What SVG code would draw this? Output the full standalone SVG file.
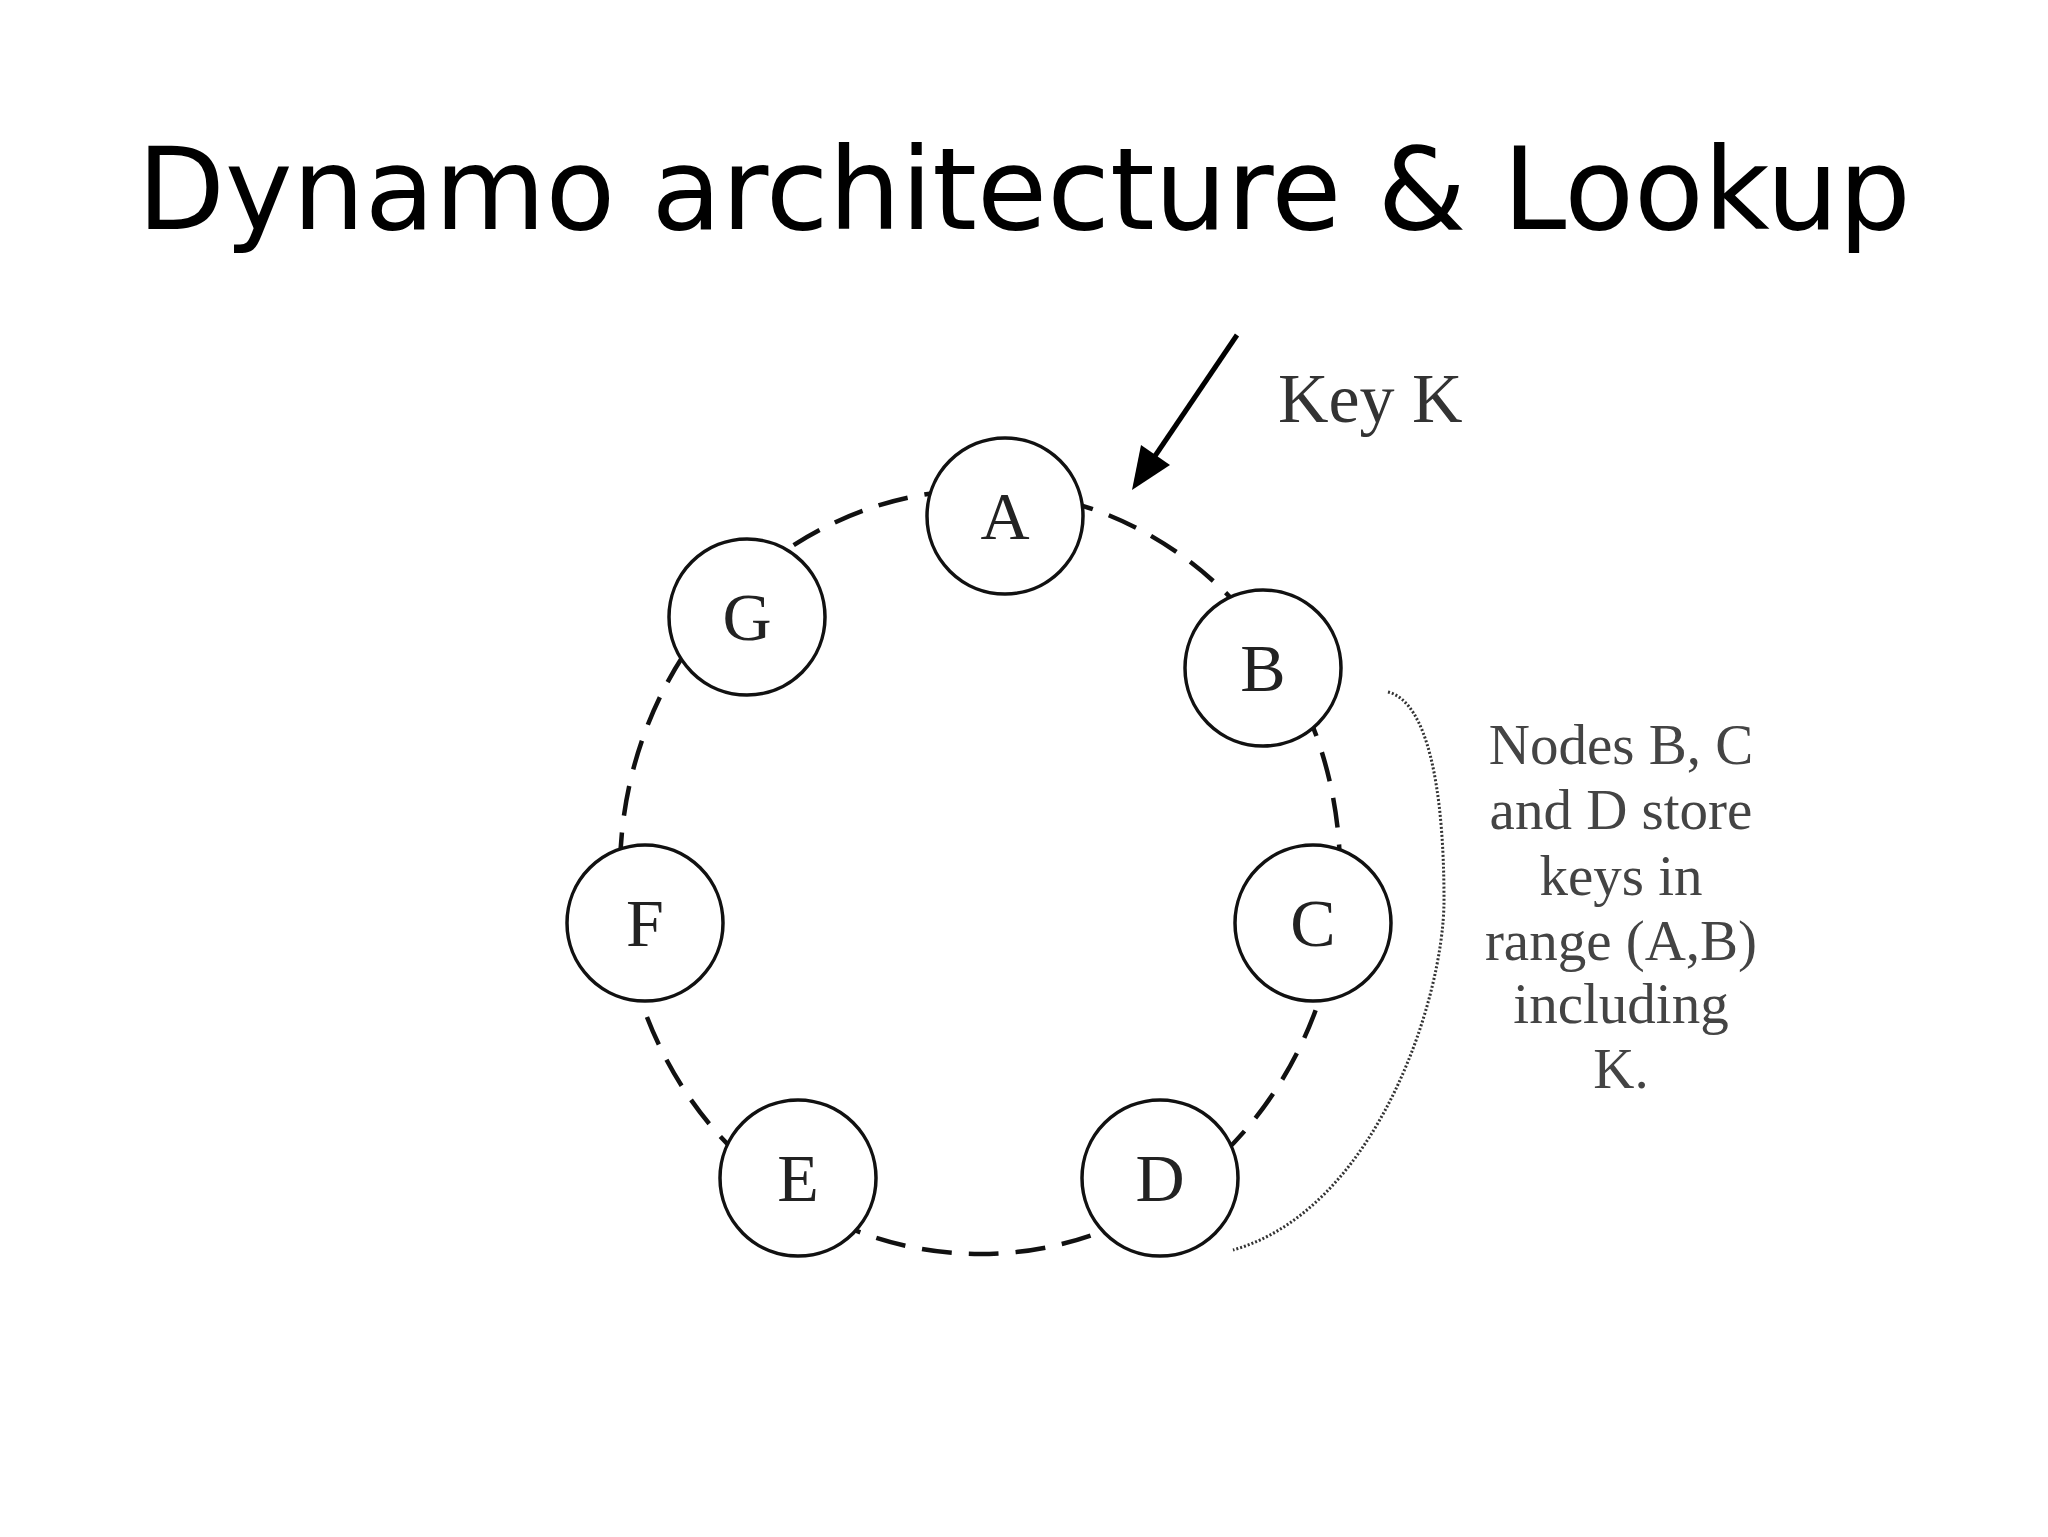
<svg xmlns="http://www.w3.org/2000/svg" width="2048" height="1537" viewBox="0 0 2048 1537">
<style>
.title{font-family:"DejaVu Sans",sans-serif;font-size:114px;fill:#000}
.node circle{fill:#fff;stroke:#111;stroke-width:3.5}
.node text{font-family:"Liberation Serif","Times New Roman",serif;font-size:68px;fill:#222;text-anchor:middle}
.ring{fill:none;stroke:#111;stroke-width:4.5;stroke-dasharray:30 17}
.dots{fill:none;stroke:#333;stroke-width:3;stroke-dasharray:2 2}
.note{font-family:"Liberation Serif","Times New Roman",serif;font-size:57px;fill:#444;text-anchor:middle}
.key{font-family:"Liberation Serif","Times New Roman",serif;font-size:70px;fill:#333}
</style>
<rect width="2048" height="1537" fill="#fff"/>
<text class="title" x="1024" y="229" text-anchor="middle">Dynamo architecture &amp; Lookup</text>
<g id="connectors">
<ellipse class="ring" cx="980" cy="872" rx="360" ry="382"/>
<line x1="1237" y1="335" x2="1155" y2="456" stroke="#000" stroke-width="5"/>
<polygon points="1132,490 1170,465 1141,445" fill="#000"/>
<path class="dots" d="M1388,692 C1428,702 1444,790 1444,900 C1444,1000 1375,1210 1233,1250"/>
</g>
<g id="node-A" class="node"><circle cx="1005" cy="516" r="78"/><text x="1005" y="539">A</text></g>
<g id="node-B" class="node"><circle cx="1263" cy="668" r="78"/><text x="1263" y="691">B</text></g>
<g id="node-C" class="node"><circle cx="1313" cy="923" r="78"/><text x="1313" y="946">C</text></g>
<g id="node-D" class="node"><circle cx="1160" cy="1178" r="78"/><text x="1160" y="1201">D</text></g>
<g id="node-E" class="node"><circle cx="798" cy="1178" r="78"/><text x="798" y="1201">E</text></g>
<g id="node-F" class="node"><circle cx="645" cy="923" r="78"/><text x="645" y="946">F</text></g>
<g id="node-G" class="node"><circle cx="747" cy="617" r="78"/><text x="747" y="640">G</text></g>
<g id="key-label"><text class="key" x="1278" y="422">Key K</text></g>
<g id="note">
<text class="note" x="1621" y="764">Nodes B, C</text>
<text class="note" x="1621" y="829">and D store</text>
<text class="note" x="1621" y="895">keys in</text>
<text class="note" x="1621" y="960">range (A,B)</text>
<text class="note" x="1621" y="1023">including</text>
<text class="note" x="1621" y="1088">K.</text>
</g>
</svg>
